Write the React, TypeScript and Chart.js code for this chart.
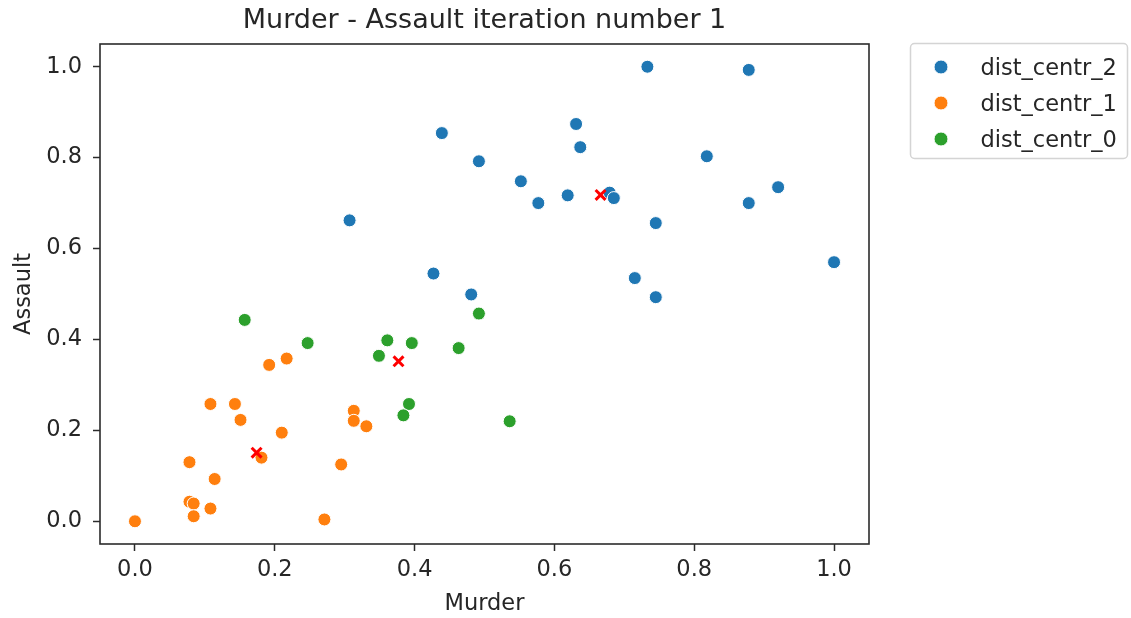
import React, { useEffect, useRef } from "react";
import { Chart, registerables } from "chart.js";

Chart.register(...registerables);

const TITLE = "Murder - Assault iteration number 1";
const X_LABEL = "Murder";
const Y_LABEL = "Assault";
const X_TICKS = [0.0, 0.2, 0.4, 0.6, 0.8, 1.0];
const Y_TICKS = [0.0, 0.2, 0.4, 0.6, 0.8, 1.0];

const SERIES_NAMES = ["dist_centr_2", "dist_centr_1", "dist_centr_0"];
const SERIES_COLORS = ["#1f77b4", "#ff7f0e", "#2ca02c"];

const centr2X = [0.439, 0.492, 0.307, 0.427, 0.481, 0.733, 0.878, 0.631, 0.637, 0.818, 0.552, 0.577, 0.619, 0.679, 0.685, 0.920, 0.878, 0.745, 1.000, 0.715, 0.745];
const centr2Y = [0.854, 0.792, 0.662, 0.545, 0.499, 1.000, 0.993, 0.874, 0.823, 0.803, 0.748, 0.700, 0.717, 0.723, 0.711, 0.735, 0.700, 0.656, 0.570, 0.535, 0.493];

const centr1X = [0.192, 0.217, 0.108, 0.143, 0.151, 0.210, 0.313, 0.313, 0.331, 0.181, 0.078, 0.114, 0.295, 0.078, 0.084, 0.108, 0.084, 0.000, 0.271];
const centr1Y = [0.344, 0.358, 0.258, 0.258, 0.223, 0.195, 0.243, 0.221, 0.209, 0.140, 0.130, 0.093, 0.125, 0.043, 0.039, 0.028, 0.011, 0.000, 0.004];

const centr0X = [0.492, 0.157, 0.247, 0.361, 0.396, 0.349, 0.463, 0.392, 0.384, 0.536];
const centr0Y = [0.457, 0.443, 0.392, 0.398, 0.392, 0.364, 0.381, 0.258, 0.233, 0.220];

const centroidX = [0.666, 0.377, 0.174];
const centroidY = [0.718, 0.352, 0.151];

const FONT = "DejaVu Sans";
const TEXT_COLOR = "#262626";

const zip = (xs: number[], ys: number[]) => xs.map((x, i) => ({ x, y: ys[i] }));

const framePlugin = {
  id: "frameAndLegend",
  afterDatasetsDraw(chart: any) {
    const { ctx, chartArea } = chart;
    ctx.save();
    ctx.strokeStyle = "#2b2b2b";
    ctx.lineWidth = 1.6;
    ctx.strokeRect(chartArea.left, chartArea.top, chartArea.right - chartArea.left, chartArea.bottom - chartArea.top);
    ctx.restore();
  },
  afterDraw(chart: any) {
    const { ctx } = chart;
    const bx = 910.5, by = 43.5, bw = 217, bh = 115;
    ctx.save();
    ctx.beginPath();
    (ctx as any).roundRect(bx, by, bw, bh, 4);
    ctx.fillStyle = "rgba(255,255,255,0.8)";
    ctx.fill();
    ctx.strokeStyle = "#d4d4d4";
    ctx.lineWidth = 1.5;
    ctx.stroke();
    const items = chart.data.datasets.filter((d: any) => d.inLegend);
    items.forEach((d: any, i: number) => {
      const cy = 67 + 36 * i;
      ctx.beginPath();
      ctx.arc(941, cy, 7, 0, Math.PI * 2);
      ctx.fillStyle = d.backgroundColor;
      ctx.fill();
      ctx.strokeStyle = "#ffffff";
      ctx.lineWidth = 1;
      ctx.stroke();
      ctx.fillStyle = TEXT_COLOR;
      ctx.font = `22.5px "${FONT}"`;
      ctx.textAlign = "left";
      ctx.textBaseline = "alphabetic";
      ctx.fillText(d.label, 980.5, cy + 8);
    });
    ctx.restore();
  },
};

export default function App() {
  const ref = useRef<HTMLCanvasElement | null>(null);

  useEffect(() => {
    if (!ref.current) return;
    const seriesX = [centr2X, centr1X, centr0X];
    const seriesY = [centr2Y, centr1Y, centr0Y];
    const datasets: any[] = [
      {
        label: "centroids",
        data: zip(centroidX, centroidY),
        pointStyle: "crossRot",
        pointRadius: 7,
        pointBorderWidth: 3,
        borderColor: "#ff0000",
        backgroundColor: "#ff0000",
        inLegend: false,
      },
      ...SERIES_NAMES.map((name, i) => ({
        label: name,
        data: zip(seriesX[i], seriesY[i]),
        backgroundColor: SERIES_COLORS[i],
        borderColor: "#ffffff",
        pointRadius: 6.5,
        pointBorderWidth: 1,
        inLegend: true,
      })),
    ];

    const tickFont = { family: FONT, size: 22.5 };
    const chart = new Chart(ref.current, {
      type: "scatter",
      data: { datasets },
      options: {
        animation: false,
        responsive: false,
        devicePixelRatio: 1,
        layout: { padding: { left: 0, top: 0, right: 262, bottom: 0 } },
        plugins: {
          legend: { display: false },
          tooltip: { enabled: false },
          title: {
            display: true,
            text: TITLE,
            fullSize: false,
            color: TEXT_COLOR,
            font: { family: FONT, size: 27, weight: "normal" },
            padding: { top: 4.5, bottom: 7.1 },
          },
        },
        scales: {
          x: {
            type: "linear",
            min: -0.05,
            max: 1.05,
            afterFit: (s: any) => { s.height = 74; },
            afterBuildTicks: (s: any) => { s.ticks = X_TICKS.map((v) => ({ value: v })); },
            ticks: {
              includeBounds: false,
              padding: 6,
              color: TEXT_COLOR,
              font: tickFont,
              maxRotation: 0,
              callback: (v: any) => Number(v).toFixed(1),
            },
            grid: { display: true, drawOnChartArea: false, drawTicks: true, tickLength: 7, tickWidth: 1.5, tickColor: "#2b2b2b" },
            border: { display: false },
            title: { display: true, text: X_LABEL, color: TEXT_COLOR, font: tickFont, padding: { top: 0, bottom: 0.3 } },
          },
          y: {
            type: "linear",
            min: -0.05,
            max: 1.05,
            afterFit: (s: any) => { s.width = 100; },
            afterBuildTicks: (s: any) => { s.ticks = Y_TICKS.map((v) => ({ value: v })); },
            ticks: {
              includeBounds: false,
              padding: 11,
              color: TEXT_COLOR,
              font: tickFont,
              callback: (v: any) => Number(v).toFixed(1),
            },
            grid: { display: true, drawOnChartArea: false, drawTicks: true, tickLength: 7, tickWidth: 1.5, tickColor: "#2b2b2b" },
            border: { display: false },
            title: { display: true, text: Y_LABEL, color: TEXT_COLOR, font: tickFont, padding: { top: 10.2, bottom: 0 } },
          },
        },
      } as any,
      plugins: [framePlugin],
    });
    return () => chart.destroy();
  }, []);

  return (
    <div style={{ position: "fixed", left: 0, top: 0, width: 1131, height: 618, background: "#ffffff" }}>
      <canvas ref={ref} width={1131} height={618} />
    </div>
  );
}
